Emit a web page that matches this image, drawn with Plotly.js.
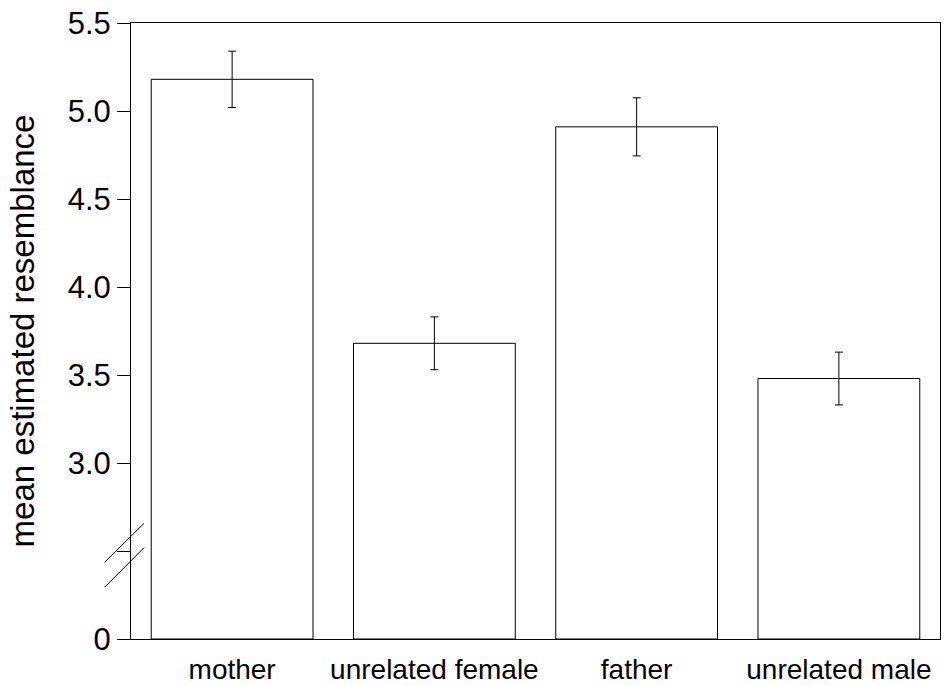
<!DOCTYPE html>
<html>
<head>
<meta charset="utf-8">
<script src="https://cdn.plot.ly/plotly-3.0.1.min.js"></script>
<style>
  html, body { margin: 0; padding: 0; background: #fff; }
  #chart { width: 949px; height: 686px; }
</style>
</head>
<body>
<div id="chart"></div>
<script>
// ---- data ----
const categories = ["mother", "unrelated female", "father", "unrelated male"];
const meanResemblance = [5.18, 3.68, 4.91, 3.48];
const standardError = [0.16, 0.15, 0.165, 0.15];
const yTickValues = [0, 2.5, 3.0, 3.5, 4.0, 4.5, 5.0, 5.5];
const yTickLabels = ["0", "", "3.0", "3.5", "4.0", "4.5", "5.0", "5.5"];

// ---- broken axis mapping: values >= BREAK are shifted down by OFFSET,
// values below BREAK are compressed into [0, BREAK - OFFSET]
const BREAK = 2.5, OFFSET = 2.0;
function toDisplay(v) {
  return v >= BREAK ? v - OFFSET : v * (BREAK - OFFSET) / BREAK;
}

const font = "Liberation Sans, Arial, sans-serif";

const trace = {
  type: "bar",
  x: categories,
  y: meanResemblance.map(toDisplay),
  marker: { color: "#ffffff", line: { color: "#000000", width: 1 } },
  error_y: { type: "data", array: standardError, visible: true, color: "#000000", thickness: 1, width: 4 },
  hoverinfo: "skip"
};

const layout = {
  width: 949, height: 686,
  margin: { l: 131, r: 9, t: 23, b: 47 },
  paper_bgcolor: "#ffffff", plot_bgcolor: "#ffffff",
  showlegend: false,
  bargap: 0.2,
  font: { family: font, color: "#000000" },
  xaxis: {
    type: "category",
    range: [-0.5, 3.5],
    showline: true, linecolor: "#000000", linewidth: 1, mirror: true,
    ticks: "", showgrid: false, zeroline: false,
    tickfont: { family: font, size: 28, color: "#000000" },
    ticklabelstandoff: 5,
    automargin: false,
    fixedrange: true
  },
  yaxis: {
    range: [0, toDisplay(5.5)],
    tickmode: "array",
    tickvals: yTickValues.map(toDisplay),
    ticktext: yTickLabels,
    showline: true, linecolor: "#000000", linewidth: 1, mirror: true,
    ticks: "outside", ticklen: 13, tickwidth: 1, tickcolor: "#000000",
    showgrid: false, zeroline: false,
    tickfont: { family: font, size: 31, color: "#000000" },
    title: { text: "mean estimated resemblance", font: { family: font, size: 33, color: "#000000" }, standoff: 23 },
    automargin: false,
    fixedrange: true
  },
  shapes: [
    { type: "line", xref: "paper", yref: "y", x0: -0.0325, x1: 0.0161, y0: 0.436, y1: 0.657,
      line: { color: "#000000", width: 1 } },
    { type: "line", xref: "paper", yref: "y", x0: -0.0325, x1: 0.0161, y0: 0.295, y1: 0.519,
      line: { color: "#000000", width: 1 } }
  ]
};

Plotly.newPlot("chart", [trace], layout, { displayModeBar: false, staticPlot: true });
</script>
</body>
</html>
